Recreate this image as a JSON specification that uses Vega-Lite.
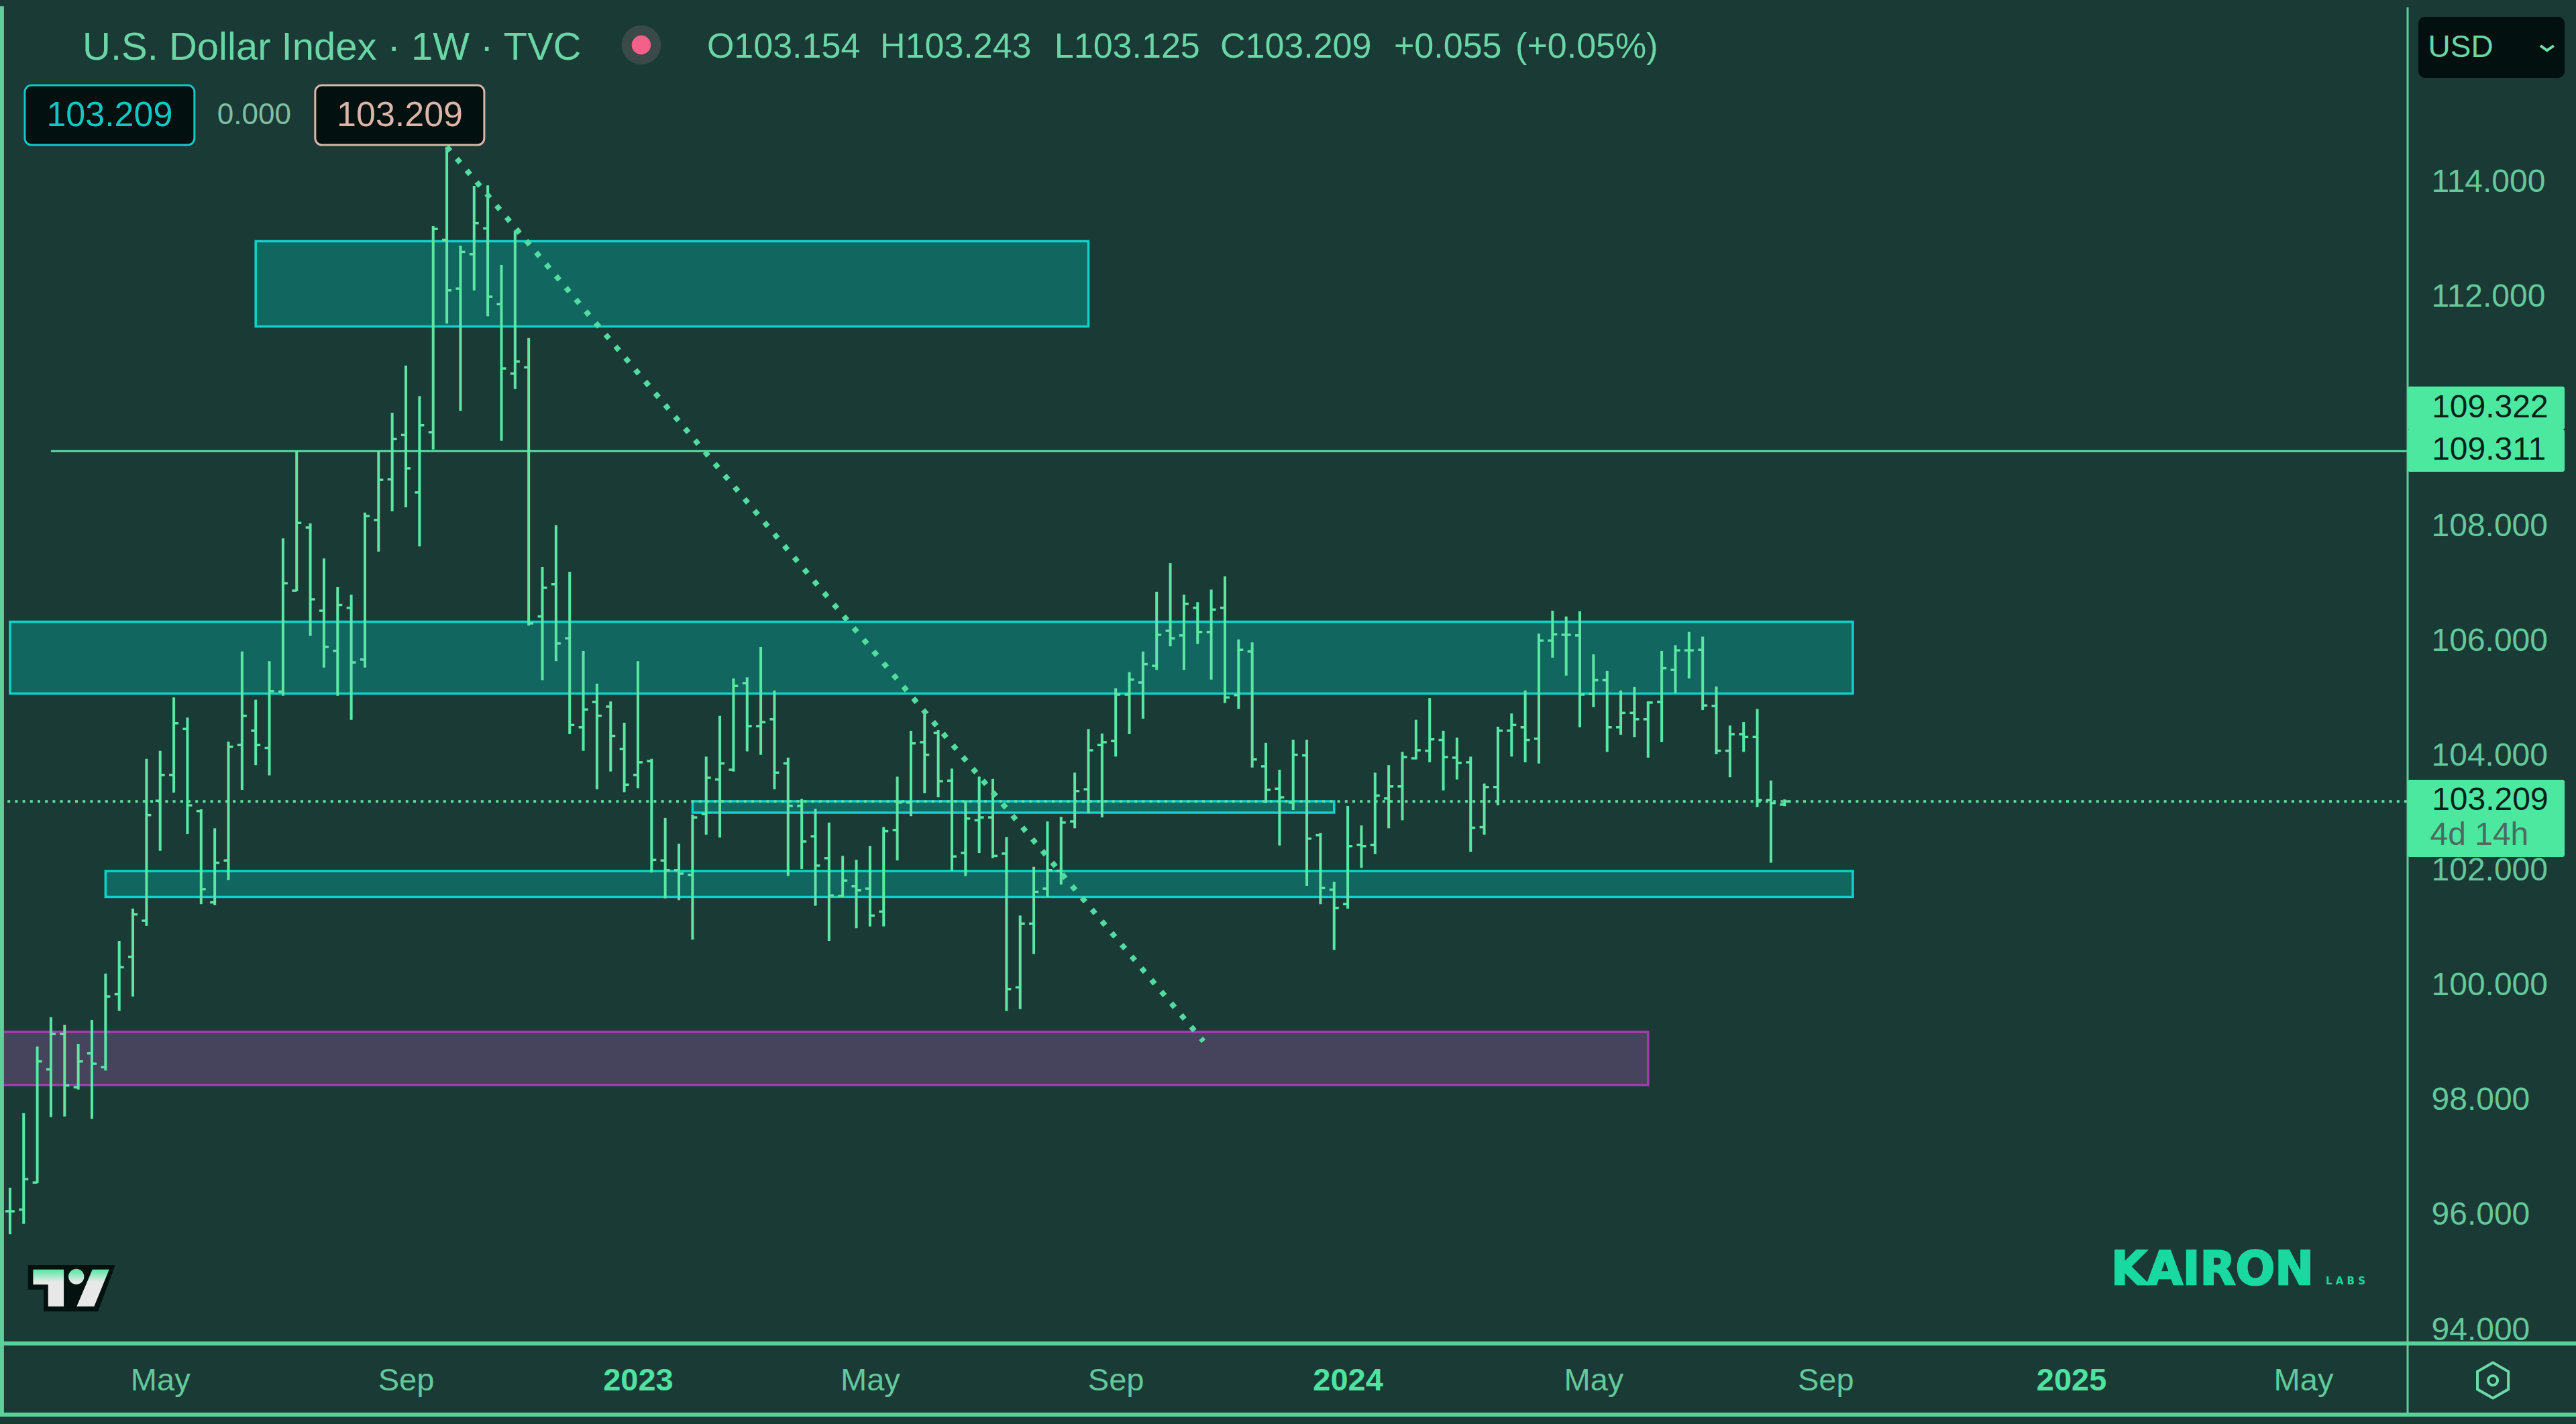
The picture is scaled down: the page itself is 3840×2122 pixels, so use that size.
{
"$schema":"https://vega.github.io/schema/vega-lite/v6.json",
"width":3840,"height":2122,"padding":0,"autosize":{"type":"none"},
"background":"#1a3a36",
"config":{"view":{"stroke":null},"text":{"font":"Liberation Sans"}},
"encoding":{
 "x":{"field":"date","type":"temporal","title":null,
  "scale":{"type":"utc","domain":[{"year":2022,"month":2,"date":8,"hours":21,"utc":true},{"year":2025,"month":9,"date":21,"hours":20,"utc":true}]},
  "axis":{"orient":"bottom","offset":-120,"title":null,"domain":false,"ticks":false,"grid":false,"labelPadding":55,"labelBaseline":"middle","labelFont":"Liberation Sans","labelFontSize":47,"labelOverlap":false,"labelFlush":false,"labelBound":false,
   "labelColor":{"condition":{"test":"utcmonth(datum.value)==0","value":"#4fe3a0"},"value":"#63c99b"},
   "labelFontWeight":{"condition":{"test":"utcmonth(datum.value)==0","value":"bold"},"value":"normal"},
   "values":[{"year":2022,"month":5,"date":2,"utc":true},{"year":2022,"month":9,"date":5,"utc":true},{"year":2023,"month":1,"date":2,"utc":true},{"year":2023,"month":5,"date":1,"utc":true},{"year":2023,"month":9,"date":4,"utc":true},{"year":2024,"month":1,"date":1,"utc":true},{"year":2024,"month":5,"date":6,"utc":true},{"year":2024,"month":9,"date":2,"utc":true},{"year":2025,"month":1,"date":6,"utc":true},{"year":2025,"month":5,"date":5,"utc":true}],
   "labelExpr":"utcmonth(datum.value)==4?'May':utcmonth(datum.value)==8?'Sep':utcFormat(datum.value,'%Y')"}},
 "y":{"field":"price","type":"quantitative","title":null,
  "scale":{"domain":[92.364,117.168],"nice":false,"zero":false},
  "axis":{"orient":"right","offset":-253,"title":null,"domain":false,"ticks":false,"grid":false,"labelPadding":37,"labelFont":"Liberation Sans","labelFontSize":48,"labelColor":"#63c99b","labelOverlap":false,"labelBound":false,"labelFlush":false,"format":".3f","values":[94,96,98,100,102,104,106,108,112,114]}}
},
"layer":[
{"data":{"format":{"parse":{"date2":"date"}},"values":[
 {"date":"2022-06-20","date2":"2023-08-21","price":112.967,"price2":111.48},
 {"date":"2022-02-14","date2":"2024-09-16","price":106.338,"price2":105.086},
 {"date":"2023-01-30","date2":"2023-12-25","price":103.21,"price2":103.012},
 {"date":"2022-04-04","date2":"2024-09-16","price":101.996,"price2":101.546}]},
 "mark":{"type":"rect","fill":"#126660","stroke":"#0bd4c8","strokeWidth":3.5},
 "encoding":{"x2":{"field":"date2"},"y2":{"field":"price2"}}},
{"data":{"format":{"parse":{"date2":"date"}},"values":[
 {"date":"2022-02-08T21:00:00Z","date2":"2024-06-03","price":99.197,"price2":98.271}]},
 "mark":{"type":"rect","fill":"#45445c","stroke":"#a33bb0","strokeWidth":3.5},
 "encoding":{"x2":{"field":"date2"},"y2":{"field":"price2"}}},
{"data":{"format":{"parse":{"date2":"date"}},"values":[
 {"date":"2022-03-07","date2":"2025-06-27T12:00:00Z","price":109.311}]},
 "mark":{"type":"rule","stroke":"#5fdc9f","strokeWidth":3},
 "encoding":{"x2":{"field":"date2"}}},
{"data":{"format":{"parse":{"date2":"date"}},"values":[
 {"date":"2022-02-08T21:00:00Z","date2":"2025-06-27T12:00:00Z","price":103.209}]},
 "mark":{"type":"rule","stroke":"#5fdc9f","strokeWidth":4,"strokeDash":[4,7.2]},
 "encoding":{"x2":{"field":"date2"}}},
{"data":{"name":"bars","values":[
{"date":"2022-02-14","open":96.07,"high":96.48,"low":95.67,"close":96.07},
{"date":"2022-02-21","open":96.10,"high":97.78,"low":95.85,"close":96.63},
{"date":"2022-02-28","open":96.57,"high":98.94,"low":96.56,"close":98.68},
{"date":"2022-03-07","open":98.54,"high":99.45,"low":97.71,"close":99.16},
{"date":"2022-03-14","open":99.16,"high":99.32,"low":97.72,"close":98.26},
{"date":"2022-03-21","open":98.23,"high":98.98,"low":98.19,"close":98.68},
{"date":"2022-03-28","open":98.82,"high":99.40,"low":97.68,"close":98.64},
{"date":"2022-04-04","open":98.58,"high":100.21,"low":98.52,"close":99.81},
{"date":"2022-04-11","open":99.85,"high":100.78,"low":99.56,"close":100.32},
{"date":"2022-04-18","open":100.50,"high":101.34,"low":99.81,"close":101.24},
{"date":"2022-04-25","open":101.13,"high":103.95,"low":101.04,"close":102.97},
{"date":"2022-05-02","open":103.22,"high":104.09,"low":102.35,"close":103.67},
{"date":"2022-05-09","open":103.67,"high":105.02,"low":103.36,"close":104.57},
{"date":"2022-05-16","open":104.47,"high":104.67,"low":102.64,"close":103.14},
{"date":"2022-05-23","open":103.04,"high":103.07,"low":101.42,"close":101.68},
{"date":"2022-05-30","open":101.45,"high":102.74,"low":101.40,"close":102.14},
{"date":"2022-06-06","open":102.18,"high":104.25,"low":101.84,"close":104.16},
{"date":"2022-06-13","open":104.19,"high":105.82,"low":103.41,"close":104.70},
{"date":"2022-06-20","open":104.44,"high":104.98,"low":103.84,"close":104.19},
{"date":"2022-06-27","open":104.14,"high":105.65,"low":103.66,"close":105.13},
{"date":"2022-07-04","open":105.12,"high":107.79,"low":105.05,"close":107.01},
{"date":"2022-07-11","open":106.88,"high":109.31,"low":106.87,"close":108.06},
{"date":"2022-07-18","open":107.98,"high":108.05,"low":106.09,"close":106.73},
{"date":"2022-07-25","open":106.53,"high":107.44,"low":105.54,"close":105.90},
{"date":"2022-08-01","open":105.83,"high":106.94,"low":105.05,"close":106.63},
{"date":"2022-08-08","open":106.58,"high":106.81,"low":104.63,"close":105.63},
{"date":"2022-08-15","open":105.68,"high":108.24,"low":105.54,"close":108.18},
{"date":"2022-08-22","open":108.11,"high":109.31,"low":107.56,"close":108.81},
{"date":"2022-08-29","open":108.82,"high":109.98,"low":108.26,"close":109.52},
{"date":"2022-09-05","open":109.59,"high":110.80,"low":108.33,"close":109.01},
{"date":"2022-09-12","open":108.59,"high":110.27,"low":107.65,"close":109.76},
{"date":"2022-09-19","open":109.64,"high":113.23,"low":109.34,"close":113.18},
{"date":"2022-09-26","open":112.99,"high":114.61,"low":111.53,"close":112.11},
{"date":"2022-10-03","open":112.14,"high":112.89,"low":110.01,"close":112.78},
{"date":"2022-10-10","open":112.74,"high":113.93,"low":112.11,"close":113.28},
{"date":"2022-10-17","open":113.19,"high":113.94,"low":111.66,"close":112.00},
{"date":"2022-10-24","open":111.87,"high":112.55,"low":109.49,"close":110.75},
{"date":"2022-10-31","open":110.66,"high":113.15,"low":110.39,"close":110.87},
{"date":"2022-11-07","open":110.77,"high":111.28,"low":106.27,"close":106.31},
{"date":"2022-11-14","open":106.43,"high":107.29,"low":105.32,"close":106.93},
{"date":"2022-11-21","open":106.99,"high":108.02,"low":105.65,"close":105.96},
{"date":"2022-11-28","open":106.05,"high":107.21,"low":104.38,"close":104.54},
{"date":"2022-12-05","open":104.50,"high":105.83,"low":104.09,"close":104.81},
{"date":"2022-12-12","open":104.94,"high":105.26,"low":103.42,"close":104.70},
{"date":"2022-12-19","open":104.86,"high":104.95,"low":103.73,"close":104.35},
{"date":"2022-12-26","open":104.12,"high":104.58,"low":103.37,"close":103.50},
{"date":"2023-01-02","open":103.67,"high":105.65,"low":103.44,"close":103.89},
{"date":"2023-01-09","open":103.91,"high":103.95,"low":101.97,"close":102.19},
{"date":"2023-01-16","open":102.18,"high":102.92,"low":101.52,"close":102.01},
{"date":"2023-01-23","open":102.01,"high":102.47,"low":101.49,"close":101.95},
{"date":"2023-01-30","open":101.93,"high":102.98,"low":100.80,"close":102.93},
{"date":"2023-02-06","open":102.99,"high":103.99,"low":102.63,"close":103.62},
{"date":"2023-02-13","open":103.59,"high":104.70,"low":102.58,"close":103.87},
{"date":"2023-02-20","open":103.76,"high":105.35,"low":103.73,"close":105.22},
{"date":"2023-02-27","open":105.27,"high":105.37,"low":104.08,"close":104.52},
{"date":"2023-03-06","open":104.52,"high":105.90,"low":104.02,"close":104.59},
{"date":"2023-03-13","open":104.64,"high":105.14,"low":103.42,"close":103.71},
{"date":"2023-03-20","open":103.87,"high":103.97,"low":101.91,"close":103.13},
{"date":"2023-03-27","open":103.13,"high":103.25,"low":102.03,"close":102.51},
{"date":"2023-04-03","open":102.60,"high":103.08,"low":101.39,"close":102.09},
{"date":"2023-04-10","open":102.22,"high":102.84,"low":100.78,"close":101.57},
{"date":"2023-04-17","open":101.56,"high":102.26,"low":101.54,"close":101.83},
{"date":"2023-04-24","open":101.73,"high":102.19,"low":101.00,"close":101.66},
{"date":"2023-05-01","open":101.69,"high":102.43,"low":101.03,"close":101.22},
{"date":"2023-05-08","open":101.29,"high":102.76,"low":101.03,"close":102.69},
{"date":"2023-05-15","open":102.71,"high":103.64,"low":102.18,"close":103.19},
{"date":"2023-05-22","open":103.19,"high":104.44,"low":102.95,"close":104.22},
{"date":"2023-05-29","open":104.24,"high":104.72,"low":103.35,"close":104.02},
{"date":"2023-06-05","open":104.40,"high":104.45,"low":103.28,"close":103.56},
{"date":"2023-06-12","open":103.57,"high":103.78,"low":102.00,"close":102.25},
{"date":"2023-06-19","open":102.31,"high":103.22,"low":101.91,"close":102.91},
{"date":"2023-06-26","open":102.88,"high":103.64,"low":102.31,"close":102.93},
{"date":"2023-07-03","open":102.93,"high":103.60,"low":102.22,"close":102.26},
{"date":"2023-07-10","open":102.30,"high":102.59,"low":99.56,"close":99.94},
{"date":"2023-07-17","open":99.97,"high":101.22,"low":99.59,"close":101.08},
{"date":"2023-07-24","open":101.08,"high":102.07,"low":100.55,"close":101.63},
{"date":"2023-07-31","open":101.69,"high":102.86,"low":101.54,"close":102.01},
{"date":"2023-08-07","open":102.00,"high":102.94,"low":101.76,"close":102.84},
{"date":"2023-08-14","open":102.86,"high":103.71,"low":102.74,"close":103.39},
{"date":"2023-08-21","open":103.42,"high":104.47,"low":103.00,"close":104.10},
{"date":"2023-08-28","open":104.19,"high":104.39,"low":102.93,"close":104.24},
{"date":"2023-09-04","open":104.26,"high":105.18,"low":103.99,"close":105.07},
{"date":"2023-09-11","open":105.07,"high":105.46,"low":104.38,"close":105.33},
{"date":"2023-09-18","open":105.28,"high":105.82,"low":104.65,"close":105.60},
{"date":"2023-09-25","open":105.57,"high":106.86,"low":105.50,"close":106.11},
{"date":"2023-10-02","open":106.18,"high":107.36,"low":105.91,"close":106.05},
{"date":"2023-10-09","open":106.10,"high":106.81,"low":105.50,"close":106.65},
{"date":"2023-10-16","open":106.58,"high":106.68,"low":105.95,"close":106.16},
{"date":"2023-10-23","open":106.16,"high":106.90,"low":105.33,"close":106.55},
{"date":"2023-10-30","open":106.58,"high":107.13,"low":104.92,"close":105.02},
{"date":"2023-11-06","open":105.06,"high":106.03,"low":104.82,"close":105.85},
{"date":"2023-11-13","open":105.82,"high":105.98,"low":103.80,"close":103.94},
{"date":"2023-11-20","open":103.82,"high":104.23,"low":103.18,"close":103.41},
{"date":"2023-11-27","open":103.43,"high":103.76,"low":102.44,"close":103.28},
{"date":"2023-12-04","open":103.19,"high":104.28,"low":103.06,"close":104.02},
{"date":"2023-12-11","open":104.01,"high":104.28,"low":101.74,"close":102.56},
{"date":"2023-12-18","open":102.62,"high":102.66,"low":101.42,"close":101.70},
{"date":"2023-12-25","open":101.67,"high":101.81,"low":100.62,"close":101.35},
{"date":"2024-01-01","open":101.42,"high":103.13,"low":101.34,"close":102.43},
{"date":"2024-01-08","open":102.45,"high":102.79,"low":102.05,"close":102.43},
{"date":"2024-01-15","open":102.45,"high":103.71,"low":102.29,"close":103.31},
{"date":"2024-01-22","open":103.26,"high":103.84,"low":102.74,"close":103.47},
{"date":"2024-01-29","open":103.47,"high":104.07,"low":102.88,"close":103.98},
{"date":"2024-02-05","open":103.96,"high":104.63,"low":103.94,"close":104.10},
{"date":"2024-02-12","open":104.09,"high":105.01,"low":103.89,"close":104.29},
{"date":"2024-02-19","open":104.28,"high":104.44,"low":103.40,"close":103.98},
{"date":"2024-02-26","open":103.97,"high":104.32,"low":103.59,"close":103.88},
{"date":"2024-03-04","open":103.89,"high":103.99,"low":102.33,"close":102.75},
{"date":"2024-03-11","open":102.76,"high":103.52,"low":102.63,"close":103.46},
{"date":"2024-03-18","open":103.46,"high":104.51,"low":103.14,"close":104.44},
{"date":"2024-03-25","open":104.44,"high":104.74,"low":103.99,"close":104.54},
{"date":"2024-04-01","open":104.50,"high":105.14,"low":103.89,"close":104.28},
{"date":"2024-04-08","open":104.30,"high":106.13,"low":103.87,"close":106.01},
{"date":"2024-04-15","open":106.01,"high":106.53,"low":105.71,"close":106.12},
{"date":"2024-04-22","open":106.11,"high":106.43,"low":105.40,"close":106.11},
{"date":"2024-04-29","open":106.10,"high":106.52,"low":104.50,"close":105.07},
{"date":"2024-05-06","open":105.08,"high":105.77,"low":104.85,"close":105.32},
{"date":"2024-05-13","open":105.32,"high":105.48,"low":104.07,"close":104.50},
{"date":"2024-05-20","open":104.50,"high":105.14,"low":104.37,"close":104.75},
{"date":"2024-05-27","open":104.75,"high":105.20,"low":104.33,"close":104.64},
{"date":"2024-06-03","open":104.64,"high":104.95,"low":103.97,"close":104.93},
{"date":"2024-06-10","open":104.94,"high":105.83,"low":104.24,"close":105.53},
{"date":"2024-06-17","open":105.50,"high":105.93,"low":105.10,"close":105.84},
{"date":"2024-06-24","open":105.84,"high":106.16,"low":105.35,"close":105.84},
{"date":"2024-07-01","open":105.85,"high":106.08,"low":104.80,"close":104.88},
{"date":"2024-07-08","open":104.87,"high":105.21,"low":104.03,"close":104.09},
{"date":"2024-07-15","open":104.09,"high":104.53,"low":103.63,"close":104.38},
{"date":"2024-07-22","open":104.38,"high":104.59,"low":104.07,"close":104.33},
{"date":"2024-07-29","open":104.33,"high":104.82,"low":103.11,"close":103.23},
{"date":"2024-08-05","open":103.23,"high":103.57,"low":102.14,"close":103.18},
{"date":"2024-08-12","open":103.154,"high":103.243,"low":103.125,"close":103.209}]},
 "mark":{"type":"rule","stroke":"#5ce6a3","strokeWidth":4},
 "encoding":{"y":{"field":"high","type":"quantitative","title":null},"y2":{"field":"low"}}},
{"data":{"name":"bars"},"mark":{"type":"tick","orient":"horizontal","color":"#5ce6a3","size":7,"thickness":3.5,"xOffset":-3.5,"opacity":1},
 "encoding":{"y":{"field":"open","type":"quantitative","title":null}}},
{"data":{"name":"bars"},"mark":{"type":"tick","orient":"horizontal","color":"#5ce6a3","size":7,"thickness":3.5,"xOffset":3.5,"opacity":1},
 "encoding":{"y":{"field":"close","type":"quantitative","title":null}}},
{"data":{"values":[{"date":"2022-09-26","price":114.61},{"date":"2023-10-19","price":99.03}]},
 "mark":{"type":"line","stroke":"#52dca0","strokeWidth":8,"strokeDash":[8,14.9]}},
{"data":{"format":{"parse":{"date2":"date"}},"values":[
 {"date":"2022-02-08T21:00:00Z","date2":"2025-09-21T20:00:00Z","price":93.766},
 {"date":"2022-02-08T21:00:00Z","date2":"2025-09-21T20:00:00Z","price":92.527}]},
 "mark":{"type":"rule","stroke":"#5fcf9a","strokeWidth":6},
 "encoding":{"x2":{"field":"date2"}}},
{"data":{"values":[{"date":"2022-02-09T21:00:00Z","price":117.06,"price2":92.527}]},
 "mark":{"type":"rule","stroke":"#5fcf9a","strokeWidth":6},
 "encoding":{"y2":{"field":"price2"}}},
{"data":{"values":[{"date":"2025-06-27T12:00:00Z","price":117.04,"price2":92.527}]},
 "mark":{"type":"rule","stroke":"#5fcf9a","strokeWidth":3},
 "encoding":{"y2":{"field":"price2"}}},
{"data":{"format":{"parse":{"date2":"date"}},"values":[
 {"date":"2022-02-21T14:00:00Z","date2":"2022-05-19T14:00:00Z","price":115.683,"price2":114.643}]},
 "mark":{"type":"rect","fill":"#02100f","stroke":"#0dc9c4","strokeWidth":3,"cornerRadius":10},
 "encoding":{"x2":{"field":"date2"},"y2":{"field":"price2"}}},
{"data":{"format":{"parse":{"date2":"date"}},"values":[
 {"date":"2022-07-20T12:00:00Z","date2":"2022-10-15T05:00:00Z","price":115.683,"price2":114.643}]},
 "mark":{"type":"rect","fill":"#02100f","stroke":"#dcb5a8","strokeWidth":3,"cornerRadius":10},
 "encoding":{"x2":{"field":"date2"},"y2":{"field":"price2"}}},
{"data":{"format":{"parse":{"date2":"date"}},"values":[
 {"date":"2025-07-03","date2":"2025-09-16","price":116.876,"price2":115.812}]},
 "mark":{"type":"rect","fill":"#02110f","cornerRadius":10},
 "encoding":{"x2":{"field":"date2"},"y2":{"field":"price2"}}},
{"data":{"format":{"parse":{"date2":"date"}},"values":[
 {"date":"2025-06-27T12:00:00Z","date2":"2025-09-16","price":110.435,"price2":109.687},
 {"date":"2025-06-27T12:00:00Z","date2":"2025-09-16","price":109.687,"price2":108.951},
 {"date":"2025-06-27T12:00:00Z","date2":"2025-09-16","price":103.585,"price2":102.241}]},
 "mark":{"type":"rect","fill":"#4de8a0","cornerRadius":3},
 "encoding":{"x2":{"field":"date2"},"y2":{"field":"price2"}}},
{"data":{"values":[{"date":"2025-09-03T14:00:00Z","price":116.373},{"date":"2025-09-07","price":116.291},{"date":"2025-09-10T10:00:00Z","price":116.373}]},
 "mark":{"type":"line","stroke":"#6fe0a8","strokeWidth":4}},
{"data":{"values":[{"date":"2023-01-03T17:00:00Z","price":116.385}]},"mark":{"type":"circle","color":"#3a4a48","size":3421,"opacity":1}},
{"data":{"values":[{"date":"2023-01-03T17:00:00Z","price":116.385}]},"mark":{"type":"circle","color":"#f5608a","size":804,"opacity":1}},
{"data":{"values":[{"date":"2022-03-23T05:00:00Z","price":116.128,"label":"U.S. Dollar Index · 1W · TVC"}]},
 "mark":{"type":"text","align":"left","baseline":"alphabetic","fontSize":58,"color":"#6bd6a5"},"encoding":{"text":{"field":"label"}}},
{"data":{"values":[
 {"date":"2023-02-06T10:00:00Z","price":116.166,"label":"O103.154"},
 {"date":"2023-05-06T05:00:00Z","price":116.166,"label":"H103.243"},
 {"date":"2023-08-03T14:00:00Z","price":116.166,"label":"L103.125"},
 {"date":"2023-10-27T14:00:00Z","price":116.166,"label":"C103.209"},
 {"date":"2024-01-24T17:00:00Z","price":116.166,"label":"+0.055"},
 {"date":"2024-03-27","price":116.166,"label":"(+0.05%)"}]},
 "mark":{"type":"text","align":"left","baseline":"alphabetic","fontSize":52,"color":"#6bd6a5"},"encoding":{"text":{"field":"label"}}},
{"data":{"values":[{"date":"2022-04-06T02:00:00Z","price":115.157,"label":"103.209"}]},
 "mark":{"type":"text","align":"center","baseline":"middle","fontSize":52,"color":"#0dc9c4"},"encoding":{"text":{"field":"label"}}},
{"data":{"values":[{"date":"2022-09-01T22:00:00Z","price":115.157,"label":"103.209"}]},
 "mark":{"type":"text","align":"center","baseline":"middle","fontSize":52,"color":"#dcb5a8"},"encoding":{"text":{"field":"label"}}},
{"data":{"values":[{"date":"2022-06-19T05:00:00Z","price":115.157,"label":"0.000"}]},
 "mark":{"type":"text","align":"center","baseline":"middle","fontSize":44,"color":"#82bfa0"},"encoding":{"text":{"field":"label"}}},
{"data":{"values":[{"date":"2025-07-08","price":116.338,"label":"USD"}]},
 "mark":{"type":"text","align":"left","baseline":"middle","fontSize":46,"color":"#6bd6a5"},"encoding":{"text":{"field":"label"}}},
{"data":{"values":[
 {"date":"2025-07-09T22:00:00Z","price":110.061,"label":"109.322"},
 {"date":"2025-07-09T22:00:00Z","price":109.319,"label":"109.311"},
 {"date":"2025-07-09T22:00:00Z","price":103.223,"label":"103.209"}]},
 "mark":{"type":"text","align":"left","baseline":"middle","fontSize":48,"color":"#0c1f1b"},"encoding":{"text":{"field":"label"}}},
{"data":{"values":[{"date":"2025-07-09","price":102.615,"label":"4d 14h"}]},
 "mark":{"type":"text","align":"left","baseline":"middle","fontSize":48,"color":"#4c6a60"},"encoding":{"text":{"field":"label"}}},
{"data":{"values":[{"date":"2025-01-26T10:00:00Z","price":94.795,"label":"KAIRON"}]},
 "mark":{"type":"text","align":"left","baseline":"alphabetic","font":"DejaVu Sans","fontWeight":"bold","fontSize":69,"color":"#1ad9a0","stroke":"#1ad9a0","strokeWidth":2.5},"encoding":{"text":{"field":"label"}}},
{"data":{"values":[{"date":"2025-05-16T12:00:00Z","price":94.795,"label":"L A B S"}]},
 "mark":{"type":"text","align":"left","baseline":"alphabetic","font":"DejaVu Sans","fontWeight":"bold","fontSize":15,"color":"#1ad9a0"},"encoding":{"text":{"field":"label"}}},
{"data":{"values":[{"date":"2022-03-17T17:00:00Z","price":94.725}]},
 "mark":{"type":"point","filled":true,"opacity":1,"fill":"#03120f","stroke":null,"size":16900,"shape":"M-1.004,-0.538L0.996,-0.538L0.6,0.528L-0.646,0.528L-0.646,0.026L-1.004,0.026Z"}},
{"data":{"values":[{"date":"2022-03-17T17:00:00Z","price":94.725}]},
 "mark":{"type":"point","filled":true,"opacity":1,"stroke":null,"size":16900,
  "fill":{"gradient":"linear","x1":0,"y1":0,"x2":0,"y2":1,"stops":[{"offset":0,"color":"#4de8a0"},{"offset":0.35,"color":"#e8e8e8"},{"offset":1,"color":"#e8e8e8"}]},
  "shape":"M-0.888,-0.435L-0.185,-0.435L-0.185,0.411L-0.543,0.411L-0.543,-0.088L-0.888,-0.088ZM0.472,-0.435L0.857,-0.435L0.512,0.411L0.112,0.411ZM-0.077,-0.272A0.18,0.18,0,1,1,0.283,-0.272A0.18,0.18,0,1,1,-0.077,-0.272Z"}},
{"data":{"values":[{"date":"2025-08-10T05:00:00Z","price":93.123}]},
 "mark":{"type":"point","filled":false,"opacity":1,"stroke":"#6fd9a8","strokeWidth":4,"size":2809,"shape":"M0,-1L0.87,-0.5L0.87,0.5L0,1L-0.87,0.5L-0.87,-0.5Z"}},
{"data":{"values":[{"date":"2025-08-10T05:00:00Z","price":93.123}]},
 "mark":{"type":"point","filled":false,"opacity":1,"stroke":"#6fd9a8","strokeWidth":4,"size":200,"shape":"circle"}}
]
}
